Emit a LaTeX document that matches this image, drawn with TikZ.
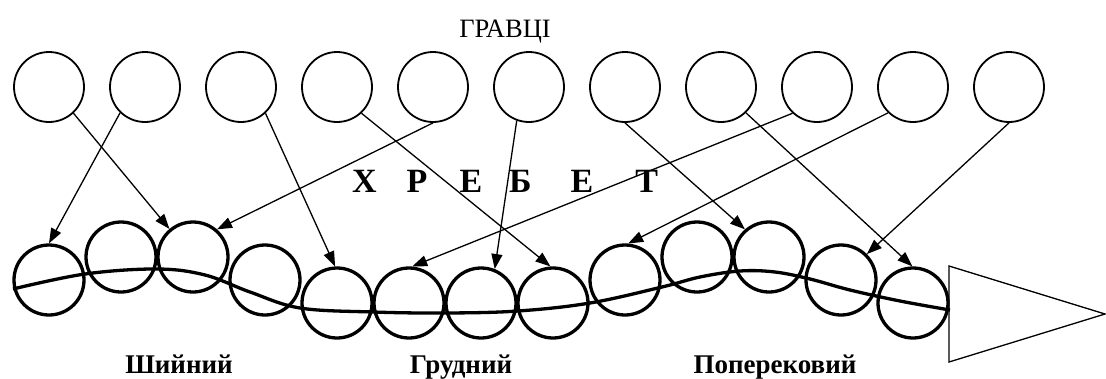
\documentclass[tikz,border=0pt]{standalone}
\usepackage{fontspec}
\setmainfont{Liberation Serif}
\usetikzlibrary{arrows.meta, calc}
\tikzset{
  playercirc/.style={draw, circle, line width=1.8pt, minimum size=70pt, inner sep=0pt},
  vertcirc/.style={draw, circle, line width=3.3pt, minimum size=70pt, inner sep=0pt},
  link/.style={-{Triangle[length=15pt, width=11pt]}, line width=1.3pt},
  cordline/.style={line width=3.3pt},
  headlabel/.style={font=\fontsize{26.5}{30}\selectfont, inner sep=0pt},
  spinelabel/.style={font=\fontsize{34}{38}\selectfont\bfseries, inner sep=0pt},
  partlabel/.style={font=\fontsize{27}{30}\selectfont\bfseries, inner sep=0pt},
}
\begin{document}
\begin{tikzpicture}[x=1pt, y=-1pt]
  \useasboundingbox (0,0) rectangle (1106,378);

  %% ── Players (top row) ──
  \node[headlabel, anchor=base] (players) at (505,37) {ГРАВЦІ};
  \foreach \i in {1,...,11}{
    \node[playercirc] (pl\i) at ({49+96*(\i-1)}, 87) {};
  }

  %% ── Spine: vertebrae with three heights ──
  \node[spinelabel, anchor=base west] (spine) at (352,192)
    {Х\hspace{30pt}Р\hspace{32pt}Е\hspace{27pt}Б\hspace{39pt}Е\hspace{42pt}Т};
  \foreach \i/\lev in {1/280, 2/257, 3/257, 4/280, 5/303, 6/303, 7/303,
                       8/303, 9/280, 10/257, 11/257, 12/280, 13/303}{
    \node[vertcirc] (v\i) at ({49+72*(\i-1)}, \lev) {};
  }

  %% Spinal cord
  \draw[cordline] plot[smooth, tension=0.6] coordinates {
    (13,289) (85,274) (157,269) (205,275) (250,292) (300,308) (373,312)
    (446,313) (518,311) (590,303) (662,287) (700,277) (740,271) (775,272)
    (810,279) (850,290) (900,301) (950,310)};

  %% Head (triangle)
  \draw[line width=1.3pt] (949,266) -- (1105,314) -- (949,362) -- cycle;

  %% ── Links player -> vertebra ──
  \draw[link] (pl1.313) -- (v3.130);
  \draw[link] (pl2.226) -- (v1.90);
  \draw[link] (pl3.313) -- (v5.93);
  \draw[link] (pl4.313) -- (v8.94);
  \draw[link] (pl5.270) -- (v3.49);
  \draw[link] (pl6.250) -- (v7.68);
  \draw[link] (pl7.270) -- (v11.131);
  \draw[link] (pl8.314) -- (v13.91);
  \draw[link] (pl9.227) -- (v6.85);
  \draw[link] (pl10.226) -- (v9.85);
  \draw[link] (pl11.270) -- (v12.45);

  %% ── Spine parts ──
  \node[partlabel, anchor=base] (cervical) at (179,373) {Шийний};
  \node[partlabel, anchor=base] (thoracic) at (461,373) {Грудний};
  \node[partlabel, anchor=base] (lumbar) at (775,373) {Поперековий};

\end{tikzpicture}
\end{document}
